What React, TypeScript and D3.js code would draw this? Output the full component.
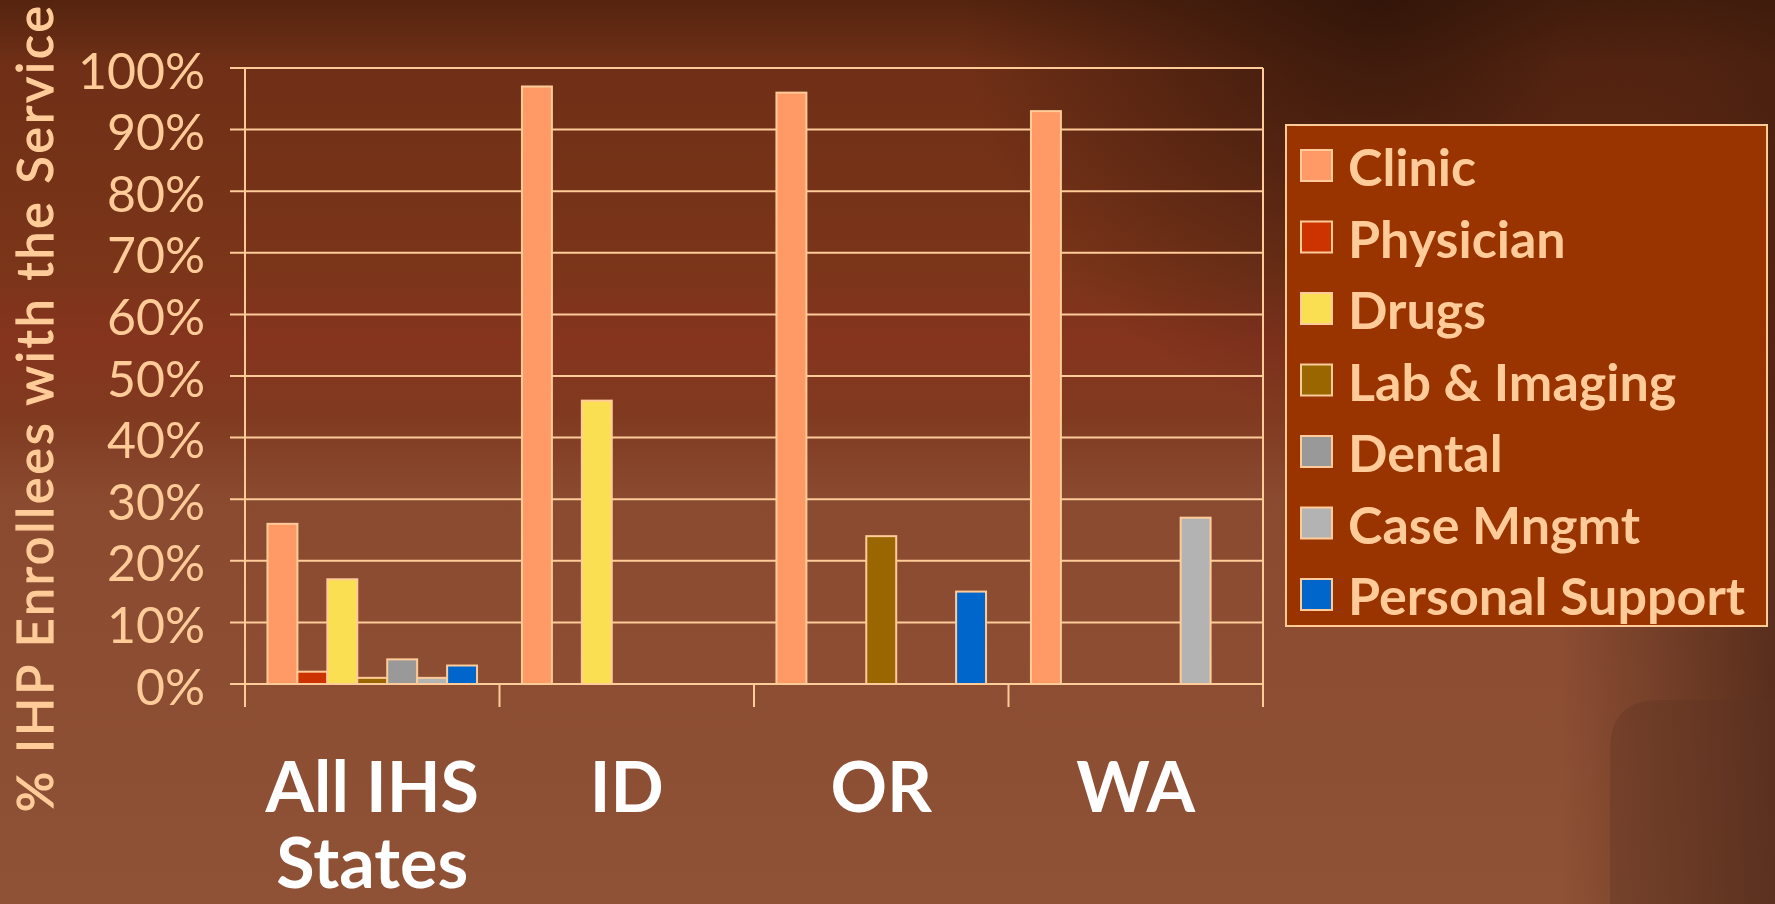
import React from 'react'
import * as d3 from 'd3'

const categories = ['All IHS States', 'ID', 'OR', 'WA']
const categoryLines = [['All IHS', 'States'], ['ID'], ['OR'], ['WA']]
const seriesNames = ['Clinic', 'Physician', 'Drugs', 'Lab & Imaging', 'Dental', 'Case Mngmt', 'Personal Support']
const seriesColors = ['#FF9966', '#CC3300', '#FBDF52', '#996600', '#999999', '#B3B3B3', '#0066CC']

// share of enrollees per service, one entry per category
const clinic = [0.26, 0.97, 0.96, 0.93]
const physician = [0.02, 0, 0, 0]
const drugs = [0.17, 0.46, 0, 0]
const labImaging = [0.01, 0, 0.24, 0]
const dental = [0.04, 0, 0, 0]
const caseMngmt = [0.01, 0, 0, 0.27]
const personalSupport = [0.03, 0, 0.15, 0]
const seriesValues = [clinic, physician, drugs, labImaging, dental, caseMngmt, personalSupport]

const yTicks = [0, 0.1, 0.2, 0.3, 0.4, 0.5, 0.6, 0.7, 0.8, 0.9, 1]

const W = 1775, H = 904
const peach = '#FFCC99'
const font = 'Lato, "Open Sans", sans-serif'

export default function App(){
  const m = { left: 245, right: 1263, top: 68, bottom: 684 }
  const x = d3.scaleBand<string>().domain(categories).range([m.left, m.right]).padding(0)
  const xi = d3.scaleBand<string>().domain(seriesNames).range([0, x.bandwidth()]).paddingInner(0).paddingOuter(0.75)
  const y = d3.scaleLinear().domain([0, 1]).range([m.bottom, m.top])

  const bars = categories.flatMap((c, ci) => seriesNames.map((s, si) => ({ c, s, si, v: seriesValues[si][ci] })))
    .filter(d => d.v > 0)

  const legend = { x: 1286, y: 125, w: 481, h: 501 }
  const ly = d3.scalePoint<string>().domain(seriesNames).range([legend.y + 41, legend.y + 470])

  return (
    <svg width={W} height={H} style={{ position: 'absolute', left: 0, top: 0, display: 'block' }}>
      <defs>
        <linearGradient id="bg" x1="0" y1="0" x2="0" y2="1">
          <stop offset="0" stopColor="#55240f" />
          <stop offset="0.07" stopColor="#6f2f16" />
          <stop offset="0.3" stopColor="#7b3519" />
          <stop offset="0.38" stopColor="#86341e" />
          <stop offset="0.46" stopColor="#803a20" />
          <stop offset="0.55" stopColor="#8a4a30" />
          <stop offset="1" stopColor="#8f5236" />
        </linearGradient>
        <radialGradient id="darkTop" cx="1380" cy="0" r="420" gradientUnits="userSpaceOnUse">
          <stop offset="0" stopColor="#2a1208" stopOpacity="0.8" />
          <stop offset="1" stopColor="#2a1208" stopOpacity="0" />
        </radialGradient>
        <linearGradient id="darkRight" x1="0" y1="0" x2="1" y2="0">
          <stop offset="0" stopColor="#2e150a" stopOpacity="0" />
          <stop offset="1" stopColor="#2e150a" stopOpacity="0.55" />
        </linearGradient>
      </defs>

      <rect width={W} height={H} fill="url(#bg)" />
      <rect width={W} height={H} fill="url(#darkTop)" />
      <rect x={1560} width={W - 1560} height={H} fill="url(#darkRight)" />
      <path d={`M1775,700 L1660,700 Q1610,700 1610,750 L1610,${H} L1775,${H} Z`} fill="#5e3422" opacity={0.35} />

      {/* y title */}
      <text transform="translate(53,812) rotate(-90)" fill={peach} stroke={peach} strokeWidth={1.2}
        fontFamily={font} fontWeight={400} fontSize={50}
        textLength={806} lengthAdjust="spacing">% IHP Enrollees with the Service</text>

      {/* grid + y ticks */}
      {yTicks.map(t => (
        <g key={t}>
          <line x1={230} x2={m.right} y1={y(t)} y2={y(t)} stroke={peach} strokeWidth={2} />
          <text x={205} y={y(t) + 3} dy="0.35em" textAnchor="end" fill={peach} fontFamily={font} fontSize={50}>
            {d3.format('.0%')(t)}
          </text>
        </g>
      ))}
      <line x1={m.left} x2={m.left} y1={m.top} y2={m.bottom + 23} stroke={peach} strokeWidth={2} />
      <line x1={m.right} x2={m.right} y1={m.top} y2={m.bottom + 23} stroke={peach} strokeWidth={2} />
      {categories.slice(1).map(c => (
        <line key={c} x1={x(c)} x2={x(c)} y1={m.bottom} y2={m.bottom + 23} stroke={peach} strokeWidth={2} />
      ))}

      {/* bars */}
      {bars.map(d => (
        <rect key={d.c + d.s} x={(x(d.c) || 0) + (xi(d.s) || 0)} y={y(d.v)} width={xi.bandwidth()}
          height={y(0) - y(d.v)} fill={seriesColors[d.si]} stroke={peach} strokeWidth={2} />
      ))}

      {/* category labels */}
      {categories.map((c, ci) => (
        <text key={c} x={(x(c) || 0) + x.bandwidth() / 2} y={812} textAnchor="middle" fill="#ffffff"
          fontFamily={font} fontWeight={700} fontSize={70}>
          {categoryLines[ci].map((ln, li) => <tspan key={ln} x={(x(c) || 0) + x.bandwidth() / 2} dy={li ? 76 : 0}>{ln}</tspan>)}
        </text>
      ))}

      {/* legend */}
      <rect x={legend.x} y={legend.y} width={legend.w} height={legend.h} fill="#993300" stroke={peach} strokeWidth={2} />
      {seriesNames.map((s, si) => (
        <g key={s} transform={`translate(0,${ly(s)})`}>
          <rect x={1301} y={-16} width={31} height={31} fill={seriesColors[si]} stroke={peach} strokeWidth={2} />
          <text x={1348} y={2} dy="0.35em" fill={peach} fontFamily={font} fontWeight={700} fontSize={52}>{s}</text>
        </g>
      ))}
    </svg>
  )
}
